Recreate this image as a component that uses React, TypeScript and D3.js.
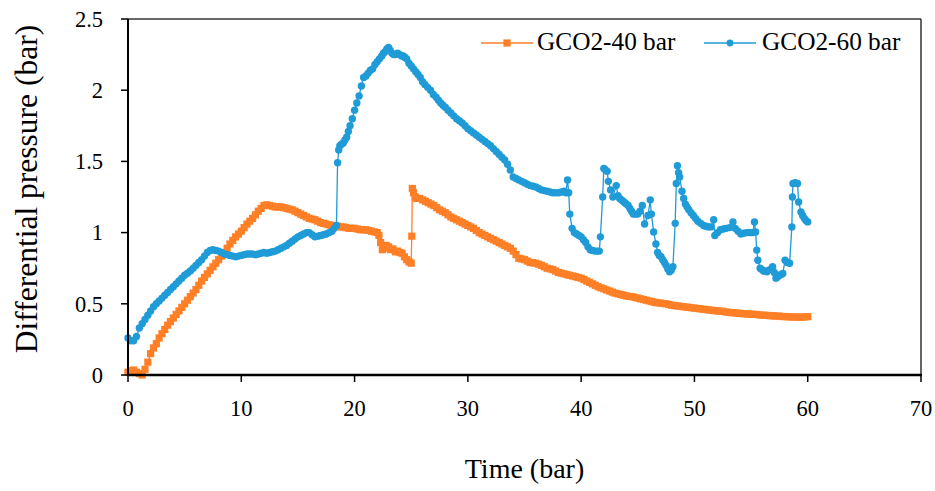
import React from "react";
import * as d3 from "d3";

const xTicks = [0, 10, 20, 30, 40, 50, 60, 70];
const yTicks = [0, 0.5, 1, 1.5, 2, 2.5];
const yTickLabels = ["0", "0.5", "1", "1.5", "2", "2.5"];
const seriesNames = ["GCO2-40 bar", "GCO2-60 bar"];

// GCO2-40 bar: [time, differential pressure]
const s40: [number, number][] = [
  [0, 0.02], [0.25, 0.03], [0.5, 0.035], [0.75, 0.02], [1.0, 0.01], [1.25, 0.0], [1.5, 0.04], [1.75, 0.09],
  [2.0, 0.15], [2.25, 0.19], [2.5, 0.22], [2.75, 0.26], [3.0, 0.29], [3.25, 0.32], [3.5, 0.35], [3.75, 0.375],
  [4.0, 0.4], [4.25, 0.425], [4.5, 0.45], [4.75, 0.475], [5.0, 0.5], [5.25, 0.525], [5.5, 0.55], [5.75, 0.575],
  [6.0, 0.6], [6.25, 0.63], [6.5, 0.66], [6.75, 0.685], [7.0, 0.71], [7.25, 0.735], [7.5, 0.76], [7.75, 0.785],
  [8.0, 0.81], [8.25, 0.835], [8.5, 0.86], [8.75, 0.89], [9.0, 0.92], [9.25, 0.945], [9.5, 0.97], [9.75, 0.99],
  [10.0, 1.01], [10.25, 1.035], [10.5, 1.06], [10.75, 1.08], [11.0, 1.1], [11.25, 1.125], [11.5, 1.15], [11.75, 1.17],
  [12.0, 1.19], [12.25, 1.195], [12.5, 1.19], [12.75, 1.185], [13.0, 1.18], [13.25, 1.18], [13.5, 1.18], [13.75, 1.175],
  [14.0, 1.17], [14.25, 1.165], [14.5, 1.16], [14.75, 1.15], [15.0, 1.14], [15.25, 1.13], [15.5, 1.12], [15.75, 1.11],
  [16.0, 1.1], [16.25, 1.095], [16.5, 1.09], [16.75, 1.08], [17.0, 1.07], [17.25, 1.065], [17.5, 1.06], [17.75, 1.055],
  [18.0, 1.05], [18.25, 1.048], [18.5, 1.045], [18.75, 1.04], [19.0, 1.04], [19.25, 1.035], [19.5, 1.03], [19.75, 1.03],
  [20.0, 1.03], [20.25, 1.025], [20.5, 1.02], [20.75, 1.02], [21.0, 1.02], [21.25, 1.015], [21.5, 1.01], [21.75, 1.005],
  [22.0, 1.0], [22.15, 0.98], [22.3, 0.93], [22.45, 0.88], [22.6, 0.89], [22.8, 0.91], [23.0, 0.9], [23.2, 0.88],
  [23.4, 0.885], [23.6, 0.865], [23.8, 0.87], [24.0, 0.86], [24.2, 0.855], [24.4, 0.83], [24.6, 0.81], [24.8, 0.795],
  [25.0, 0.785], [25.05, 0.975], [25.1, 1.31], [25.2, 1.28], [25.35, 1.25], [25.5, 1.24], [25.75, 1.24],
  [26.0, 1.23], [26.25, 1.22], [26.5, 1.21], [26.75, 1.2], [27.0, 1.19], [27.25, 1.175], [27.5, 1.16], [27.75, 1.15],
  [28.0, 1.14], [28.25, 1.125], [28.5, 1.11], [28.75, 1.1], [29.0, 1.09], [29.25, 1.08], [29.5, 1.07], [29.75, 1.06],
  [30.0, 1.05], [30.25, 1.04], [30.5, 1.03], [30.75, 1.015], [31.0, 1.0], [31.25, 0.99], [31.5, 0.98], [31.75, 0.97],
  [32.0, 0.96], [32.25, 0.95], [32.5, 0.94], [32.75, 0.93], [33.0, 0.92], [33.25, 0.91], [33.5, 0.9], [33.75, 0.89],
  [34.0, 0.87], [34.25, 0.845], [34.5, 0.82], [34.75, 0.815], [35.0, 0.81], [35.25, 0.8], [35.5, 0.79], [35.75, 0.788],
  [36.0, 0.785], [36.25, 0.778], [36.5, 0.77], [36.75, 0.76], [37.0, 0.75], [37.25, 0.745], [37.5, 0.74], [37.75, 0.73],
  [38.0, 0.72], [38.25, 0.715], [38.5, 0.71], [38.75, 0.705], [39.0, 0.7], [39.25, 0.695], [39.5, 0.69], [39.75, 0.685],
  [40.0, 0.68], [40.25, 0.67], [40.5, 0.66], [40.75, 0.65], [41.0, 0.64], [41.25, 0.63], [41.5, 0.62], [41.75, 0.612],
  [42.0, 0.605], [42.25, 0.597], [42.5, 0.59], [42.75, 0.582], [43.0, 0.575], [43.25, 0.57], [43.5, 0.565], [43.75, 0.56],
  [44.0, 0.555], [44.25, 0.552], [44.5, 0.55], [44.75, 0.545], [45.0, 0.54], [45.25, 0.535], [45.5, 0.53], [45.75, 0.525],
  [46.0, 0.52], [46.25, 0.515], [46.5, 0.51], [46.75, 0.507], [47.0, 0.505], [47.25, 0.502], [47.5, 0.5], [47.75, 0.495],
  [48.0, 0.49], [48.25, 0.487], [48.5, 0.485], [48.75, 0.482], [49.0, 0.48], [49.25, 0.477], [49.5, 0.475], [49.75, 0.472],
  [50.0, 0.47], [50.25, 0.467], [50.5, 0.465], [50.75, 0.462], [51.0, 0.46], [51.25, 0.457], [51.5, 0.455], [51.75, 0.452],
  [52.0, 0.45], [52.25, 0.448], [52.5, 0.447], [52.75, 0.443], [53.0, 0.44], [53.25, 0.438], [53.5, 0.437], [53.75, 0.435],
  [54.0, 0.433], [54.25, 0.431], [54.5, 0.43], [54.75, 0.428], [55.0, 0.427], [55.25, 0.426], [55.5, 0.425], [55.75, 0.422],
  [56.0, 0.42], [56.25, 0.419], [56.5, 0.418], [56.75, 0.416], [57.0, 0.415], [57.25, 0.414], [57.5, 0.413], [57.75, 0.411],
  [58.0, 0.41], [58.25, 0.409], [58.5, 0.408], [58.75, 0.407], [59.0, 0.407], [59.25, 0.406], [59.5, 0.406], [59.75, 0.408],
  [60.0, 0.41],
];

// GCO2-60 bar: [time, differential pressure]
const s60: [number, number][] = [
  [0.0, 0.26], [0.25, 0.24], [0.5, 0.24], [0.75, 0.27], [1.0, 0.33], [1.25, 0.36], [1.5, 0.39], [1.75, 0.42],
  [2.0, 0.45], [2.25, 0.48], [2.5, 0.5], [2.75, 0.52], [3.0, 0.54], [3.25, 0.56], [3.5, 0.58], [3.75, 0.6],
  [4.0, 0.62], [4.25, 0.64], [4.5, 0.66], [4.75, 0.68], [5.0, 0.7], [5.25, 0.715], [5.5, 0.73], [5.75, 0.75],
  [6.0, 0.77], [6.25, 0.79], [6.5, 0.81], [6.75, 0.835], [7.0, 0.86], [7.25, 0.875], [7.5, 0.88], [7.75, 0.875],
  [8.0, 0.87], [8.25, 0.86], [8.5, 0.85], [8.75, 0.845], [9.0, 0.84], [9.25, 0.835], [9.5, 0.83], [9.75, 0.835],
  [10.0, 0.84], [10.25, 0.845], [10.5, 0.85], [10.75, 0.85], [11.0, 0.85], [11.25, 0.845], [11.5, 0.85], [11.75, 0.855],
  [12.0, 0.86], [12.25, 0.855], [12.5, 0.86], [12.75, 0.865], [13.0, 0.87], [13.25, 0.88], [13.5, 0.89], [13.75, 0.9],
  [14.0, 0.91], [14.25, 0.925], [14.5, 0.94], [14.75, 0.955], [15.0, 0.97], [15.25, 0.98], [15.5, 0.99], [15.75, 1.0],
  [16.0, 1.0], [16.25, 0.985], [16.5, 0.97], [16.75, 0.975], [17.0, 0.98], [17.25, 0.985], [17.5, 0.99], [17.75, 1.0],
  [18.0, 1.01], [18.2, 1.03], [18.4, 1.05], [18.5, 1.49], [18.6, 1.58], [18.7, 1.61], [18.85, 1.62], [19.0, 1.63],
  [19.15, 1.65], [19.3, 1.67], [19.45, 1.71], [19.6, 1.75], [19.8, 1.8], [20.0, 1.86], [20.2, 1.91], [20.4, 1.96],
  [20.6, 2.03], [20.8, 2.09], [21.0, 2.1], [21.2, 2.12], [21.4, 2.14], [21.6, 2.15], [21.8, 2.18], [22.0, 2.2],
  [22.2, 2.22], [22.4, 2.24], [22.55, 2.26], [22.7, 2.27], [22.85, 2.29], [23.0, 2.3], [23.15, 2.28], [23.3, 2.26],
  [23.45, 2.25], [23.6, 2.25], [23.8, 2.26], [24.0, 2.25], [24.15, 2.24], [24.3, 2.24], [24.45, 2.23], [24.6, 2.22],
  [24.8, 2.19], [25.0, 2.17], [25.2, 2.15], [25.4, 2.13], [25.6, 2.11], [25.8, 2.09], [26.0, 2.06], [26.2, 2.04],
  [26.45, 2.02], [26.7, 2.0], [26.95, 1.97], [27.2, 1.95], [27.4, 1.93], [27.6, 1.91], [27.8, 1.895], [28.0, 1.88],
  [28.25, 1.86], [28.5, 1.84], [28.75, 1.82], [29.0, 1.8], [29.25, 1.785], [29.5, 1.77], [29.75, 1.75], [30.0, 1.73],
  [30.25, 1.715], [30.5, 1.7], [30.75, 1.685], [31.0, 1.67], [31.25, 1.655], [31.5, 1.64], [31.75, 1.625], [32.0, 1.61],
  [32.25, 1.59], [32.5, 1.57], [32.75, 1.55], [33.0, 1.53], [33.25, 1.51], [33.5, 1.48], [33.75, 1.44], [34.0, 1.39],
  [34.25, 1.38], [34.5, 1.37], [34.75, 1.36], [35.0, 1.35], [35.25, 1.34], [35.5, 1.33], [35.75, 1.325], [36.0, 1.32],
  [36.25, 1.31], [36.5, 1.3], [36.75, 1.295], [37.0, 1.29], [37.25, 1.285], [37.5, 1.28], [37.75, 1.28], [38.0, 1.28],
  [38.25, 1.285], [38.5, 1.29], [38.65, 1.28], [38.8, 1.37], [38.9, 1.28], [39.0, 1.13], [39.2, 1.03], [39.4, 1.0],
  [39.6, 0.99], [39.8, 0.98], [40.0, 0.97], [40.2, 0.95], [40.4, 0.93], [40.6, 0.9], [40.8, 0.88], [41.0, 0.875],
  [41.2, 0.87], [41.4, 0.87], [41.6, 0.87], [41.7, 0.97], [41.9, 1.25], [42.0, 1.45], [42.15, 1.44], [42.3, 1.43],
  [42.4, 1.36], [42.6, 1.3], [42.8, 1.25], [43.1, 1.33], [43.25, 1.26], [43.4, 1.24], [43.55, 1.23], [43.7, 1.22],
  [43.85, 1.21], [44.0, 1.2], [44.15, 1.19], [44.3, 1.17], [44.45, 1.15], [44.6, 1.13], [44.8, 1.13], [45.0, 1.13],
  [45.2, 1.15], [45.4, 1.19], [45.6, 1.06], [45.9, 1.12], [46.1, 1.23], [46.2, 1.13], [46.4, 1.005], [46.6, 0.92],
  [46.75, 0.86], [46.9, 0.84], [47.05, 0.83], [47.2, 0.81], [47.35, 0.79], [47.5, 0.77], [47.65, 0.745], [47.8, 0.725],
  [47.95, 0.735], [48.1, 0.76], [48.3, 1.065], [48.4, 1.345], [48.5, 1.47], [48.6, 1.42], [48.7, 1.39], [48.9, 1.29],
  [49.05, 1.24], [49.2, 1.2], [49.35, 1.18], [49.5, 1.16], [49.7, 1.14], [49.9, 1.12], [50.1, 1.1], [50.3, 1.08],
  [50.55, 1.065], [50.8, 1.05], [51.0, 1.045], [51.2, 1.04], [51.45, 1.04], [51.7, 1.09], [51.8, 0.98], [52.05, 1.0],
  [52.3, 1.02], [52.55, 1.025], [52.8, 1.03], [53.1, 1.035], [53.4, 1.075], [53.6, 1.03], [53.85, 1.01], [54.1, 0.99],
  [54.35, 0.995], [54.6, 1.0], [54.8, 1.0], [55.0, 1.0], [55.15, 1.0], [55.3, 1.075], [55.4, 1.005], [55.5, 0.877],
  [55.6, 0.806], [55.8, 0.75], [55.95, 0.74], [56.1, 0.73], [56.25, 0.73], [56.4, 0.725], [56.65, 0.74], [56.9, 0.76],
  [57.05, 0.72], [57.2, 0.68], [57.35, 0.69], [57.5, 0.7], [57.65, 0.705], [57.8, 0.713], [58.0, 0.806], [58.2, 0.79],
  [58.4, 0.785], [58.6, 1.04], [58.65, 1.25], [58.7, 1.345], [58.9, 1.35], [59.1, 1.345], [59.2, 1.215], [59.4, 1.145],
  [59.55, 1.12], [59.7, 1.1], [59.85, 1.085], [60.0, 1.075],
];

const ORANGE = "#FF7F27";
const BLUE = "#1F9BD7";
const FONT = "'Liberation Serif', 'Times New Roman', serif";

export default function App() {
  const W = 935, H = 491;
  const left = 128, right = 921, top = 19, bottom = 375;
  const x = d3.scaleLinear().domain([0, 70]).range([left, right]);
  const y = d3.scaleLinear().domain([0, 2.5]).range([bottom, top]);
  const line = d3.line<[number, number]>().x(d => x(d[0])).y(d => y(d[1]));
  const sq = 7.2;

  return (
    <svg width={W} height={H} style={{ position: "absolute", left: 0, top: 0, background: "#fff" }} fontFamily={FONT}>
      <rect x={0} y={0} width={W} height={H} fill="#fff" />
      <line x1={left} y1={top} x2={right} y2={top} stroke="#333" strokeWidth={1.5} />
      <line x1={right} y1={top} x2={right} y2={bottom} stroke="#333" strokeWidth={1.5} />
      <path d={line(s40) || ""} fill="none" stroke={ORANGE} strokeWidth={1.3} />
      {s40.map((d, i) => (
        <rect key={"o" + i} x={x(d[0]) - sq / 2} y={y(d[1]) - sq / 2} width={sq} height={sq} fill={ORANGE} />
      ))}
      <path d={line(s60) || ""} fill="none" stroke={BLUE} strokeWidth={1.3} />
      {s60.map((d, i) => (
        <circle key={"b" + i} cx={x(d[0])} cy={y(d[1])} r={3.7} fill={BLUE} />
      ))}
      <line x1={left} y1={top} x2={left} y2={bottom + 1} stroke="#000" strokeWidth={2} />
      <line x1={left - 1} y1={bottom} x2={right + 1} y2={bottom} stroke="#000" strokeWidth={2.5} />
      {yTicks.map((v, i) => (
        <g key={"yt" + i}>
          <line x1={left - 7} x2={left} y1={y(v)} y2={y(v)} stroke="#000" strokeWidth={1.5} />
          <text x={103} y={y(v)} dy="0.35em" textAnchor="end" fontSize={22.5}>{yTickLabels[i]}</text>
        </g>
      ))}
      {xTicks.map((v, i) => (
        <g key={"xt" + i}>
          <line x1={x(v)} x2={x(v)} y1={bottom} y2={bottom + 7} stroke="#000" strokeWidth={1.5} />
          <text x={x(v)} y={416} textAnchor="middle" fontSize={22.5}>{v}</text>
        </g>
      ))}
      <text x={(left + right) / 2} y={478} textAnchor="middle" fontSize={28}>Time (bar)</text>
      <text transform={`translate(37, 189) rotate(-90)`} textAnchor="middle" fontSize={31.5}>Differential pressure (bar)</text>
      <g>
        <line x1={481} x2={533} y1={43} y2={43} stroke={ORANGE} strokeWidth={1.5} />
        <rect x={507 - sq / 2} y={43 - sq / 2} width={sq} height={sq} fill={ORANGE} />
        <text x={537} y={50} fontSize={25.3}>{seriesNames[0]}</text>
        <line x1={704} x2={756} y1={43} y2={43} stroke={BLUE} strokeWidth={1.5} />
        <circle cx={730} cy={43} r={3.4} fill={BLUE} />
        <text x={762} y={50} fontSize={25.3}>{seriesNames[1]}</text>
      </g>
    </svg>
  );
}
